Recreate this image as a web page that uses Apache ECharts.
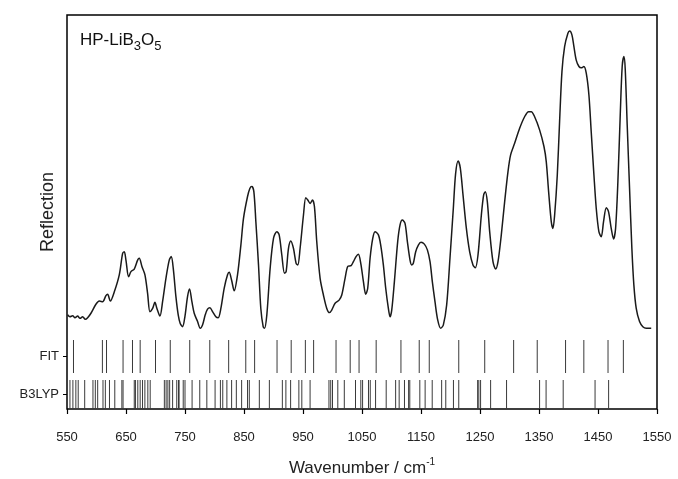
<!DOCTYPE html>
<html>
<head>
<meta charset="utf-8">
<script src="https://cdn.jsdelivr.net/npm/echarts@6/dist/echarts.min.js"></script>
<style>html,body{margin:0;padding:0;background:#fff;}#c{width:678px;height:479px;}</style>
</head>
<body>
<div id="c"></div>
<script>
// Reflection spectrum: [wavenumber (cm^-1), reflection (arb. units)]
const spectrum = [
[551,6.3],[555,5.7],[559.6,6.0],[563.5,5.4],[568,5.9],[572,5.2],[576.5,5.7],[581,4.9],[585,5.4],[590.6,6.8],
[599,9.6],[604.8,10.6],[610.4,10.4],[616,12.3],[618.9,12.7],[623.4,10.6],[630.2,13.5],[638.6,18.8],[644.3,25.5],[647.1,26.0],
[649.9,23.4],[654.4,18.2],[658.4,19.8],[664,20.6],[669.7,23.4],[672.5,24.0],[677,21.4],[682.1,18.8],[686.6,13.0],[690.6,7.3],
[695.1,8.3],[699,10.2],[702.4,8.3],[707.5,5.9],[712,10.4],[717.7,17.7],[723.3,23.4],[726.7,24.5],[730.1,20.8],[734.6,12.0],
[738.5,6.3],[741.9,3.6],[745.9,2.6],[749.8,5.7],[754.3,12.0],[757.7,14.4],[761.7,10.4],[765.6,6.8],[771.3,4.2],[775.8,2.1],
[779.7,3.1],[784.3,6.3],[788.2,8.1],[792.2,8.5],[796.7,7.3],[802.3,5.7],[806.3,5.4],[810.8,8.3],[816.4,14.6],[822.1,18.8],
[824.9,19.6],[828.9,17.2],[833.4,13.8],[839,18.8],[844.7,28.1],[849.2,36.5],[855.9,43.2],[859.9,45.8],[863.3,46.4],[866.7,44.8],
[870.1,35.4],[874.6,21.9],[878.5,8.3],[882.5,2.6],[884.7,2.1],[888.7,6.3],[894.3,20.8],[900,30.2],[905.6,32.3],[909.6,31.3],
[914.1,25.0],[918.6,19.3],[921.4,19.8],[925.4,27.1],[929.3,29.4],[933.8,27.1],[938.3,22.4],[941.2,21.9],[945.1,27.1],[950.8,37.5],
[954.7,42.9],[958.1,42.2],[962.1,41.1],[966,42.2],[969.4,40.1],[973.3,29.2],[979,17.7],[984.6,12.5],[990.3,8.3],[994.8,7.0],
[998.7,7.8],[1004.4,9.9],[1011.2,10.9],[1015.7,12.5],[1021.3,17.7],[1025.8,21.4],[1031.5,21.7],[1035.4,22.9],[1039.9,24.5],[1043.9,25.2],
[1047.9,22.4],[1052.4,16.7],[1056.3,12.7],[1059.7,14.6],[1063.7,24.0],[1068.2,30.2],[1072.1,32.3],[1077.8,31.3],[1081.7,28.1],[1086.2,21.9],
[1090.2,14.6],[1094.7,8.3],[1097.5,5.7],[1100.4,7.8],[1104.9,16.7],[1110.5,29.2],[1114.5,34.4],[1118.4,35.9],[1122.9,34.9],[1126.9,29.2],
[1131.4,23.4],[1134.2,21.9],[1137,22.4],[1141,26.0],[1145.5,28.1],[1150,29.0],[1155.7,28.4],[1160.8,26.6],[1165.3,22.9],[1169.2,16.7],
[1173.7,10.4],[1178.3,4.7],[1183.3,2.1],[1187.8,3.1],[1193.5,9.4],[1199.1,24.0],[1204.8,39.6],[1208.7,50.5],[1213,54.4],[1216.7,52.1],
[1221.2,43.8],[1226.9,33.3],[1232.5,26.0],[1238.1,21.9],[1242.1,21.0],[1246.6,25.0],[1252.3,37.5],[1256.2,43.8],[1259,44.8],[1262.4,41.7],
[1266.4,32.3],[1272,22.9],[1276.5,20.6],[1280.5,22.9],[1286.1,31.3],[1291.8,41.7],[1297.4,51.0],[1301.9,56.3],[1308.7,59.9],[1317.2,64.6],
[1325.6,68.2],[1332.4,69.8],[1336.9,69.8],[1342.6,68.2],[1351,64.1],[1358.4,58.9],[1362.3,54.2],[1366.3,44.8],[1370.8,35.4],[1373.6,33.3],
[1376.5,37.5],[1381,50.0],[1384.9,66.7],[1388.9,82.3],[1393.4,90.1],[1399,94.3],[1401.9,95.0],[1405.8,93.8],[1409.2,90.1],[1413.1,85.9],
[1417.7,83.9],[1421.6,83.5],[1426.1,83.9],[1430.1,81.8],[1434.6,75.0],[1438.5,63.5],[1443.1,50.0],[1447,39.6],[1451.5,32.3],[1455.5,30.7],
[1459.4,35.4],[1464,39.8],[1467.9,38.5],[1472.4,33.3],[1476.4,30.0],[1479.8,33.3],[1483.7,47.9],[1487.7,68.8],[1491,83.9],[1493.9,87.0],
[1496.1,83.3],[1499.5,65.6],[1503.5,45.8],[1507.4,27.1],[1510.8,15.6],[1514.8,8.3],[1520.4,4.2],[1526,2.6],[1531.7,2.1],[1540.2,2.1]
];

// Fitted mode frequencies (cm^-1)
const fitModes = [561,610,617,645,661,674,700,725,758,792,824,853,868,906,930,954,968,1006,1030,1045,1074,1116,1147,1164,1214,1258,1307,1347,1395,1426,1467,1493];

// B3LYP calculated mode frequencies (cm^-1)
const b3lypModes = [555,560,565,569,580,594,598,602,611,615,622,631,643,645,664,666,670,674,678,682,687,691,715,718,721,724,729,736,739,740,747,750,762,775,787,801,810,814,821,829,837,846,856,859,876,
893,915,921,929,943,948,962,994,997,1000,1009,1020,1039,1048,1051,1061,1064,1073,1091,1107,1113,1122,1129,1131,1148,1157,1169,1185,1192,1205,
1214,1246,1248,1251,1268,1295,1351,1362,1391,1445,1468];

const rowLabels = ['FIT', 'B3LYP'];
const xTicks = {min: 550, max: 1550, interval: 100};

const chart = echarts.init(document.getElementById('c'), null, {renderer: 'canvas'});
const FONT = 'Liberation Sans, Arial, sans-serif';
const L = 67, R = 21;

function ticksRender(params, api) {
  const p = api.coord([api.value(0), 0]);
  const h = api.size([0, 1])[1];
  return {
    type: 'line',
    shape: {x1: p[0], y1: p[1] - h / 2, x2: p[0], y2: p[1] + h / 2},
    style: {stroke: '#3a3a3a', lineWidth: 1}
  };
}

const hiddenX = (i) => ({
  type: 'value', gridIndex: i, min: xTicks.min, max: xTicks.max, interval: xTicks.interval,
  axisLine: {show: false}, axisTick: {show: false}, axisLabel: {show: false}, splitLine: {show: false}
});

chart.setOption({
  animation: false,
  backgroundColor: '#fff',
  title: {
    left: 75, top: 27,
    text: '{a|HP-LiB}{s|3}{a|O}{s|5}',
    textStyle: {
      fontWeight: 'normal',
      rich: {
        a: {fontFamily: FONT, fontSize: 17, fontWeight: 'normal', color: '#111', verticalAlign: 'top', lineHeight: 24},
        s: {fontFamily: FONT, fontSize: 13, fontWeight: 'normal', color: '#111', verticalAlign: 'top', lineHeight: 24, padding: [8, 0, 0, 0]}
      }
    }
  },
  grid: [
    {left: L, right: R, top: 15, height: 320},
    {left: L, right: R, top: 340, height: 33},
    {left: L, right: R, top: 380, height: 29},
    {left: L, right: R, top: 15, height: 394, show: true, borderColor: '#000', borderWidth: 1.5, backgroundColor: 'transparent'}
  ],
  xAxis: [
    hiddenX(0),
    hiddenX(1),
    {
      type: 'value', gridIndex: 2, min: xTicks.min, max: xTicks.max, interval: xTicks.interval,
      axisLine: {show: false},
      axisTick: {show: true, length: 5, lineStyle: {color: '#000', width: 1.2}},
      axisLabel: {show: true, margin: 22, fontFamily: FONT, fontSize: 13, color: '#222', formatter: v => String(v)},
      splitLine: {show: false},
      name: '{n|Wavenumber / cm}{s|-1}',
      nameLocation: 'middle', nameGap: 48,
      nameTextStyle: {
        rich: {
          n: {fontFamily: FONT, fontSize: 17, color: '#222', verticalAlign: 'bottom', lineHeight: 20},
          s: {fontFamily: FONT, fontSize: 10, color: '#222', verticalAlign: 'top', lineHeight: 20, padding: [0, 0, 8, 0]}
        }
      }
    },
    hiddenX(3)
  ],
  yAxis: [
    {type: 'value', gridIndex: 0, min: 0, max: 100, show: false},
    {type: 'category', gridIndex: 1, data: [rowLabels[0]], axisLine: {show: false},
     axisTick: {show: true, length: 4, alignWithLabel: true, lineStyle: {color: '#000'}},
     axisLabel: {margin: 8, fontFamily: FONT, fontSize: 13, color: '#222'}},
    {type: 'category', gridIndex: 2, data: [rowLabels[1]], axisLine: {show: false},
     axisTick: {show: true, length: 4, alignWithLabel: true, lineStyle: {color: '#000'}},
     axisLabel: {margin: 8, fontFamily: FONT, fontSize: 13, color: '#222'}},
    {type: 'value', gridIndex: 3, min: 0, max: 1, axisLine: {show: false}, axisTick: {show: false},
     axisLabel: {show: false}, splitLine: {show: false},
     name: 'Reflection', nameLocation: 'middle', nameGap: 10,
     nameTextStyle: {fontFamily: FONT, fontSize: 18, color: '#222'}}
  ],
  series: [
    {type: 'line', xAxisIndex: 0, yAxisIndex: 0, data: spectrum, showSymbol: false, smooth: 0.3,
     lineStyle: {color: '#1a1a1a', width: 1.5}},
    {type: 'custom', xAxisIndex: 1, yAxisIndex: 1, renderItem: ticksRender,
     data: fitModes.map(v => [v, rowLabels[0]])},
    {type: 'custom', xAxisIndex: 2, yAxisIndex: 2, renderItem: ticksRender,
     data: b3lypModes.map(v => [v, rowLabels[1]])}
  ]
});
</script>
</body>
</html>
